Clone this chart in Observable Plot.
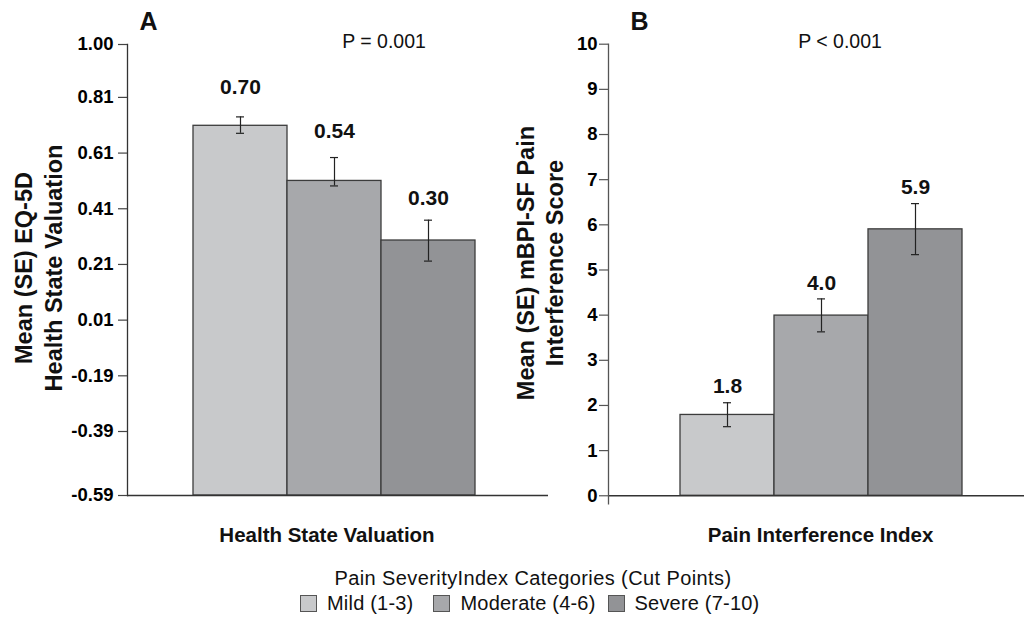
<!DOCTYPE html>
<html><head><meta charset="utf-8">
<script src="https://cdn.jsdelivr.net/npm/d3@7"></script>
<script src="https://cdn.jsdelivr.net/npm/@observablehq/plot@0.6"></script>
<style>
body{margin:0;background:#fff;}
#chart{position:relative;width:1024px;height:621px;overflow:hidden;font-family:"Liberation Sans",Arial,sans-serif;color:#000;}
#a,#b{position:absolute;top:0;}
#a{left:0px}
#b{left:500px}
#legend-title{position:absolute;top:567px;left:21px;width:1024px;text-align:center;font-size:20px;letter-spacing:0.4px;color:#111;}
#legend-items{position:absolute;top:592px;left:300px;display:flex;align-items:center;font-size:20px;letter-spacing:0.2px;white-space:nowrap;color:#111;}
.item{display:flex;align-items:center;margin-right:20px;}
.item:nth-child(2){margin-right:12px;}
.sw{width:15px;height:15px;border:1px solid #555;margin-right:10px;}
</style>
</head><body>
<div id="chart">
  <div id="a"></div>
  <div id="b"></div>
  <div id="legend-title"></div>
  <div id="legend-items"></div>
</div>
<script>
// ---------- data ----------
const categories = ["Mild (1-3)", "Moderate (4-6)", "Severe (7-10)"];
const categoryColors = ["#c8c9cb", "#a7a8ab", "#929396"];
const legendTitle = "Pain SeverityIndex Categories (Cut Points)";

// Panel A: EQ-5D health state valuation
const eqMeans = [0.708, 0.510, 0.296];
const eqSeLow = [0.681, 0.492, 0.222];
const eqSeHigh = [0.740, 0.594, 0.369];
const eqLabels = ["0.70", "0.54", "0.30"];
const eqTicks = [-0.59, -0.39, -0.19, 0.01, 0.21, 0.41, 0.61, 0.81, 1.00];

// Panel B: mBPI-SF pain interference
const piMeans = [1.79, 3.99, 5.90];
const piSeLow = [1.53, 3.63, 5.34];
const piSeHigh = [2.06, 4.36, 6.47];
const piLabels = ["1.8", "4.0", "5.9"];
const piTicks = [0, 1, 2, 3, 4, 5, 6, 7, 8, 9, 10];

const FONT = '"Liberation Sans", Arial, sans-serif';
const eqData = categories.map((c, i) => ({cat: c, mean: eqMeans[i], lo: eqSeLow[i], hi: eqSeHigh[i], label: eqLabels[i]}));
const piData = categories.map((c, i) => ({cat: c, mean: piMeans[i], lo: piSeLow[i], hi: piSeHigh[i], label: piLabels[i]}));

const commonStyle = {background: "transparent", overflow: "visible", fontFamily: FONT, fontSize: "18.5px", fontWeight: "bold", color: "#000"};
const titleOpts = {textAnchor: "middle", lineAnchor: "middle", fill: "#111"};

// ---------- Panel A ----------
const plotA = Plot.plot({
  width: 560, height: 560,
  marginLeft: 127, marginRight: 12, marginTop: 44, marginBottom: 65,
  style: commonStyle,
  x: {domain: categories, range: [192, 476], padding: 0, axis: null},
  y: {type: "linear", domain: [-0.59, -0.39, 1.00], range: [495, 431, 44], axis: null},
  color: {domain: categories, range: categoryColors},
  marks: [
    Plot.barY(eqData, {x: "cat", y1: -0.59, y2: "mean", fill: "cat", stroke: "#3c3c3c", strokeWidth: 1.3}),
    Plot.ruleX(eqData, {x: "cat", y1: "lo", y2: "hi", stroke: "#222", strokeWidth: 1.2}),
    Plot.tickY(eqData, {x: "cat", y: "lo", stroke: "#222", strokeWidth: 1.2, insetLeft: 43, insetRight: 43}),
    Plot.tickY(eqData, {x: "cat", y: "hi", stroke: "#222", strokeWidth: 1.2, insetLeft: 43, insetRight: 43}),
    Plot.text(eqData, {x: "cat", y: d => +d.label, text: "label", dy: -41, fontSize: 21, fontWeight: "bold", fill: "#111", style: "letter-spacing:0.5px"}),
    Plot.ruleY([-0.59], {stroke: "#333", strokeWidth: 1.3}),
    Plot.frame({anchor: "left", stroke: "#333", strokeWidth: 1.3}),
    Plot.axisY({ticks: eqTicks, tickFormat: d => d.toFixed(2), tickSize: 9, tickPadding: 5, fontSize: 18.5, fontWeight: "bold", stroke: "#444", strokeWidth: 1.2, label: null}),
    Plot.text(["Mean (SE) EQ-5D\nHealth State Valuation"], {...titleOpts, frameAnchor: "left", rotate: -90, dx: -90, dy: -2, fontSize: 23.5, fontWeight: "bold", lineHeight: 1.28, style: "letter-spacing:0.3px"}),
    Plot.text(["Health State Valuation"], {...titleOpts, frameAnchor: "bottom", dy: 40, dx: -11, fontSize: 20.5, fontWeight: "bold"}),
    Plot.text(["A"], {...titleOpts, frameAnchor: "top-left", dx: 21, dy: -23, fontSize: 25, fontWeight: "bold"}),
    Plot.text(["P = 0.001"], {...titleOpts, frameAnchor: "top-left", dx: 256.5, dy: -2.5, fontSize: 19.5, fontWeight: "normal", style: "letter-spacing:0.3px"})
  ]
});
document.getElementById("a").appendChild(plotA);

// ---------- Panel B ----------
const plotB = Plot.plot({
  width: 524, height: 560,
  marginLeft: 108, marginRight: 0, marginTop: 43.7, marginBottom: 56.6,
  style: commonStyle,
  x: {domain: categories, range: [179, 462], padding: 0, axis: null},
  y: {domain: [-0.18, 10], axis: null},
  color: {domain: categories, range: categoryColors},
  marks: [
    Plot.barY(piData, {x: "cat", y1: 0, y2: "mean", fill: "cat", stroke: "#3c3c3c", strokeWidth: 1.3}),
    Plot.ruleX(piData, {x: "cat", y1: "lo", y2: "hi", stroke: "#222", strokeWidth: 1.2}),
    Plot.tickY(piData, {x: "cat", y: "lo", stroke: "#222", strokeWidth: 1.2, insetLeft: 43, insetRight: 43}),
    Plot.tickY(piData, {x: "cat", y: "hi", stroke: "#222", strokeWidth: 1.2, insetLeft: 43, insetRight: 43}),
    Plot.text(piData, {x: "cat", y: "hi", text: "label", dy: -16, fontSize: 21, fontWeight: "bold", fill: "#111", style: "letter-spacing:0.5px"}),
    Plot.ruleY([0], {stroke: "#333", strokeWidth: 1.3}),
    Plot.frame({anchor: "left", stroke: "#555", strokeWidth: 1.3}),
    Plot.axisY({ticks: piTicks, tickFormat: d => String(d), tickSize: 9, tickPadding: 2, fontSize: 18.5, fontWeight: "bold", stroke: "#555", strokeWidth: 1.2, label: null}),
    Plot.text(["Mean (SE) mBPI-SF Pain\nInterference Score"], {...titleOpts, frameAnchor: "left", rotate: -90, dx: -69, dy: -11, fontSize: 23.5, fontWeight: "bold", lineHeight: 1.2, style: "letter-spacing:0.2px"}),
    Plot.text(["Pain Interference Index"], {...titleOpts, frameAnchor: "bottom", dy: 32, dx: 4, fontSize: 20.5, fontWeight: "bold"}),
    Plot.text(["B"], {...titleOpts, frameAnchor: "top-left", dx: 31, dy: -22, fontSize: 25, fontWeight: "bold"}),
    Plot.text(["P < 0.001"], {...titleOpts, frameAnchor: "top-left", dx: 231.5, dy: -2.5, fontSize: 19.5, fontWeight: "normal", style: "letter-spacing:0.3px"})
  ]
});
document.getElementById("b").appendChild(plotB);

// ---------- Legend ----------
document.getElementById("legend-title").textContent = legendTitle;
const items = document.getElementById("legend-items");
categories.forEach((c, i) => {
  const it = document.createElement("div");
  it.className = "item";
  const sw = document.createElement("div");
  sw.className = "sw";
  sw.style.background = categoryColors[i];
  const tx = document.createElement("span");
  tx.textContent = c;
  it.appendChild(sw); it.appendChild(tx);
  items.appendChild(it);
});
</script>
</body></html>
